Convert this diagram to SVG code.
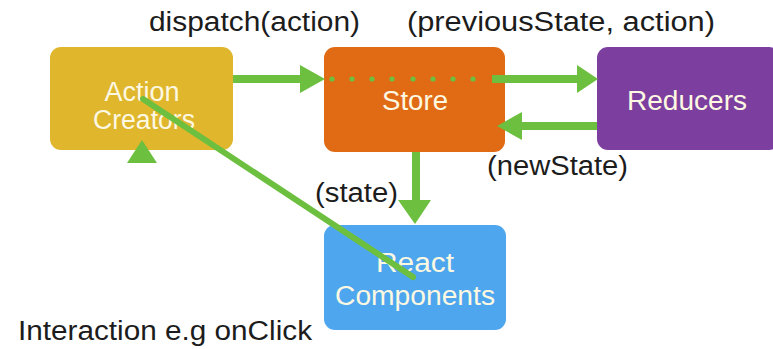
<svg xmlns="http://www.w3.org/2000/svg" width="773" height="349" viewBox="0 0 773 349">
<style>
.node text{font-family:"Liberation Sans",Arial,sans-serif;font-size:27px;fill:#fdf8e2;text-anchor:middle}
.lbl{font-family:"Liberation Sans",Arial,sans-serif;font-size:27px;fill:#1c1c1c}
.g{fill:#6cbf3f}
.gs{stroke:#6cbf3f;fill:none}
</style>
<rect width="773" height="349" fill="#ffffff"/>
<g id="action-creators" class="node">
<rect x="50" y="47" width="183" height="103" rx="11" fill="#dfb62c"/>
<text x="142" y="101" textLength="75" lengthAdjust="spacingAndGlyphs">Action</text>
<text x="144" y="129" textLength="102" lengthAdjust="spacingAndGlyphs">Creators</text>
</g>
<g id="store" class="node">
<rect x="324" y="47" width="181" height="105" rx="11" fill="#e16b15"/>
<text x="415" y="110" textLength="66" lengthAdjust="spacingAndGlyphs">Store</text>
</g>
<g id="reducers" class="node">
<rect x="597" y="47" width="183" height="103" rx="11" fill="#7c3f9f"/>
<text x="687" y="110" textLength="120" lengthAdjust="spacingAndGlyphs">Reducers</text>
</g>
<g id="react-components" class="node">
<rect x="324" y="225" width="182" height="105" rx="11" fill="#4ea7ee"/>
<text x="415" y="272" textLength="78" lengthAdjust="spacingAndGlyphs">React</text>
<text x="415" y="305" textLength="160" lengthAdjust="spacingAndGlyphs">Components</text>
</g>
<g id="connectors">
<line class="gs" x1="233" y1="79" x2="302" y2="79" stroke-width="8"/>
<polygon class="g" points="300,65 325,79 300,93"/>
<g class="g">
<circle cx="332" cy="79" r="2.6"/><circle cx="352" cy="79" r="2.6"/><circle cx="372" cy="79" r="2.6"/><circle cx="392" cy="79" r="2.6"/><circle cx="413" cy="79" r="2.6"/><circle cx="433" cy="79" r="2.6"/><circle cx="453" cy="79" r="2.6"/><circle cx="473" cy="79" r="2.6"/>
</g>
<line class="gs" x1="492" y1="79" x2="579" y2="79" stroke-width="8"/>
<polygon class="g" points="577,65 598,79 577,93"/>
<line class="gs" x1="597" y1="126" x2="520" y2="126" stroke-width="8"/>
<polygon class="g" points="522,112 497,126 522,140"/>
<line class="gs" x1="416" y1="152" x2="416" y2="202" stroke-width="8"/>
<polygon class="g" points="398,200 431,200 415,224"/>
<polygon class="g" points="127,163 157,163 142,140"/>
<line class="gs" x1="143" y1="99" x2="413" y2="277" stroke-width="6" stroke-linecap="round"/>
</g>
<g id="labels">
<text class="lbl" x="149" y="31" textLength="211" lengthAdjust="spacingAndGlyphs">dispatch(action)</text>
<text class="lbl" x="407" y="31" textLength="308" lengthAdjust="spacingAndGlyphs">(previousState, action)</text>
<text class="lbl" x="487" y="175" textLength="141" lengthAdjust="spacingAndGlyphs">(newState)</text>
<text class="lbl" x="315" y="202" textLength="83" lengthAdjust="spacingAndGlyphs">(state)</text>
<text class="lbl" x="18" y="340" textLength="294" lengthAdjust="spacingAndGlyphs">Interaction e.g onClick</text>
</g>
</svg>
